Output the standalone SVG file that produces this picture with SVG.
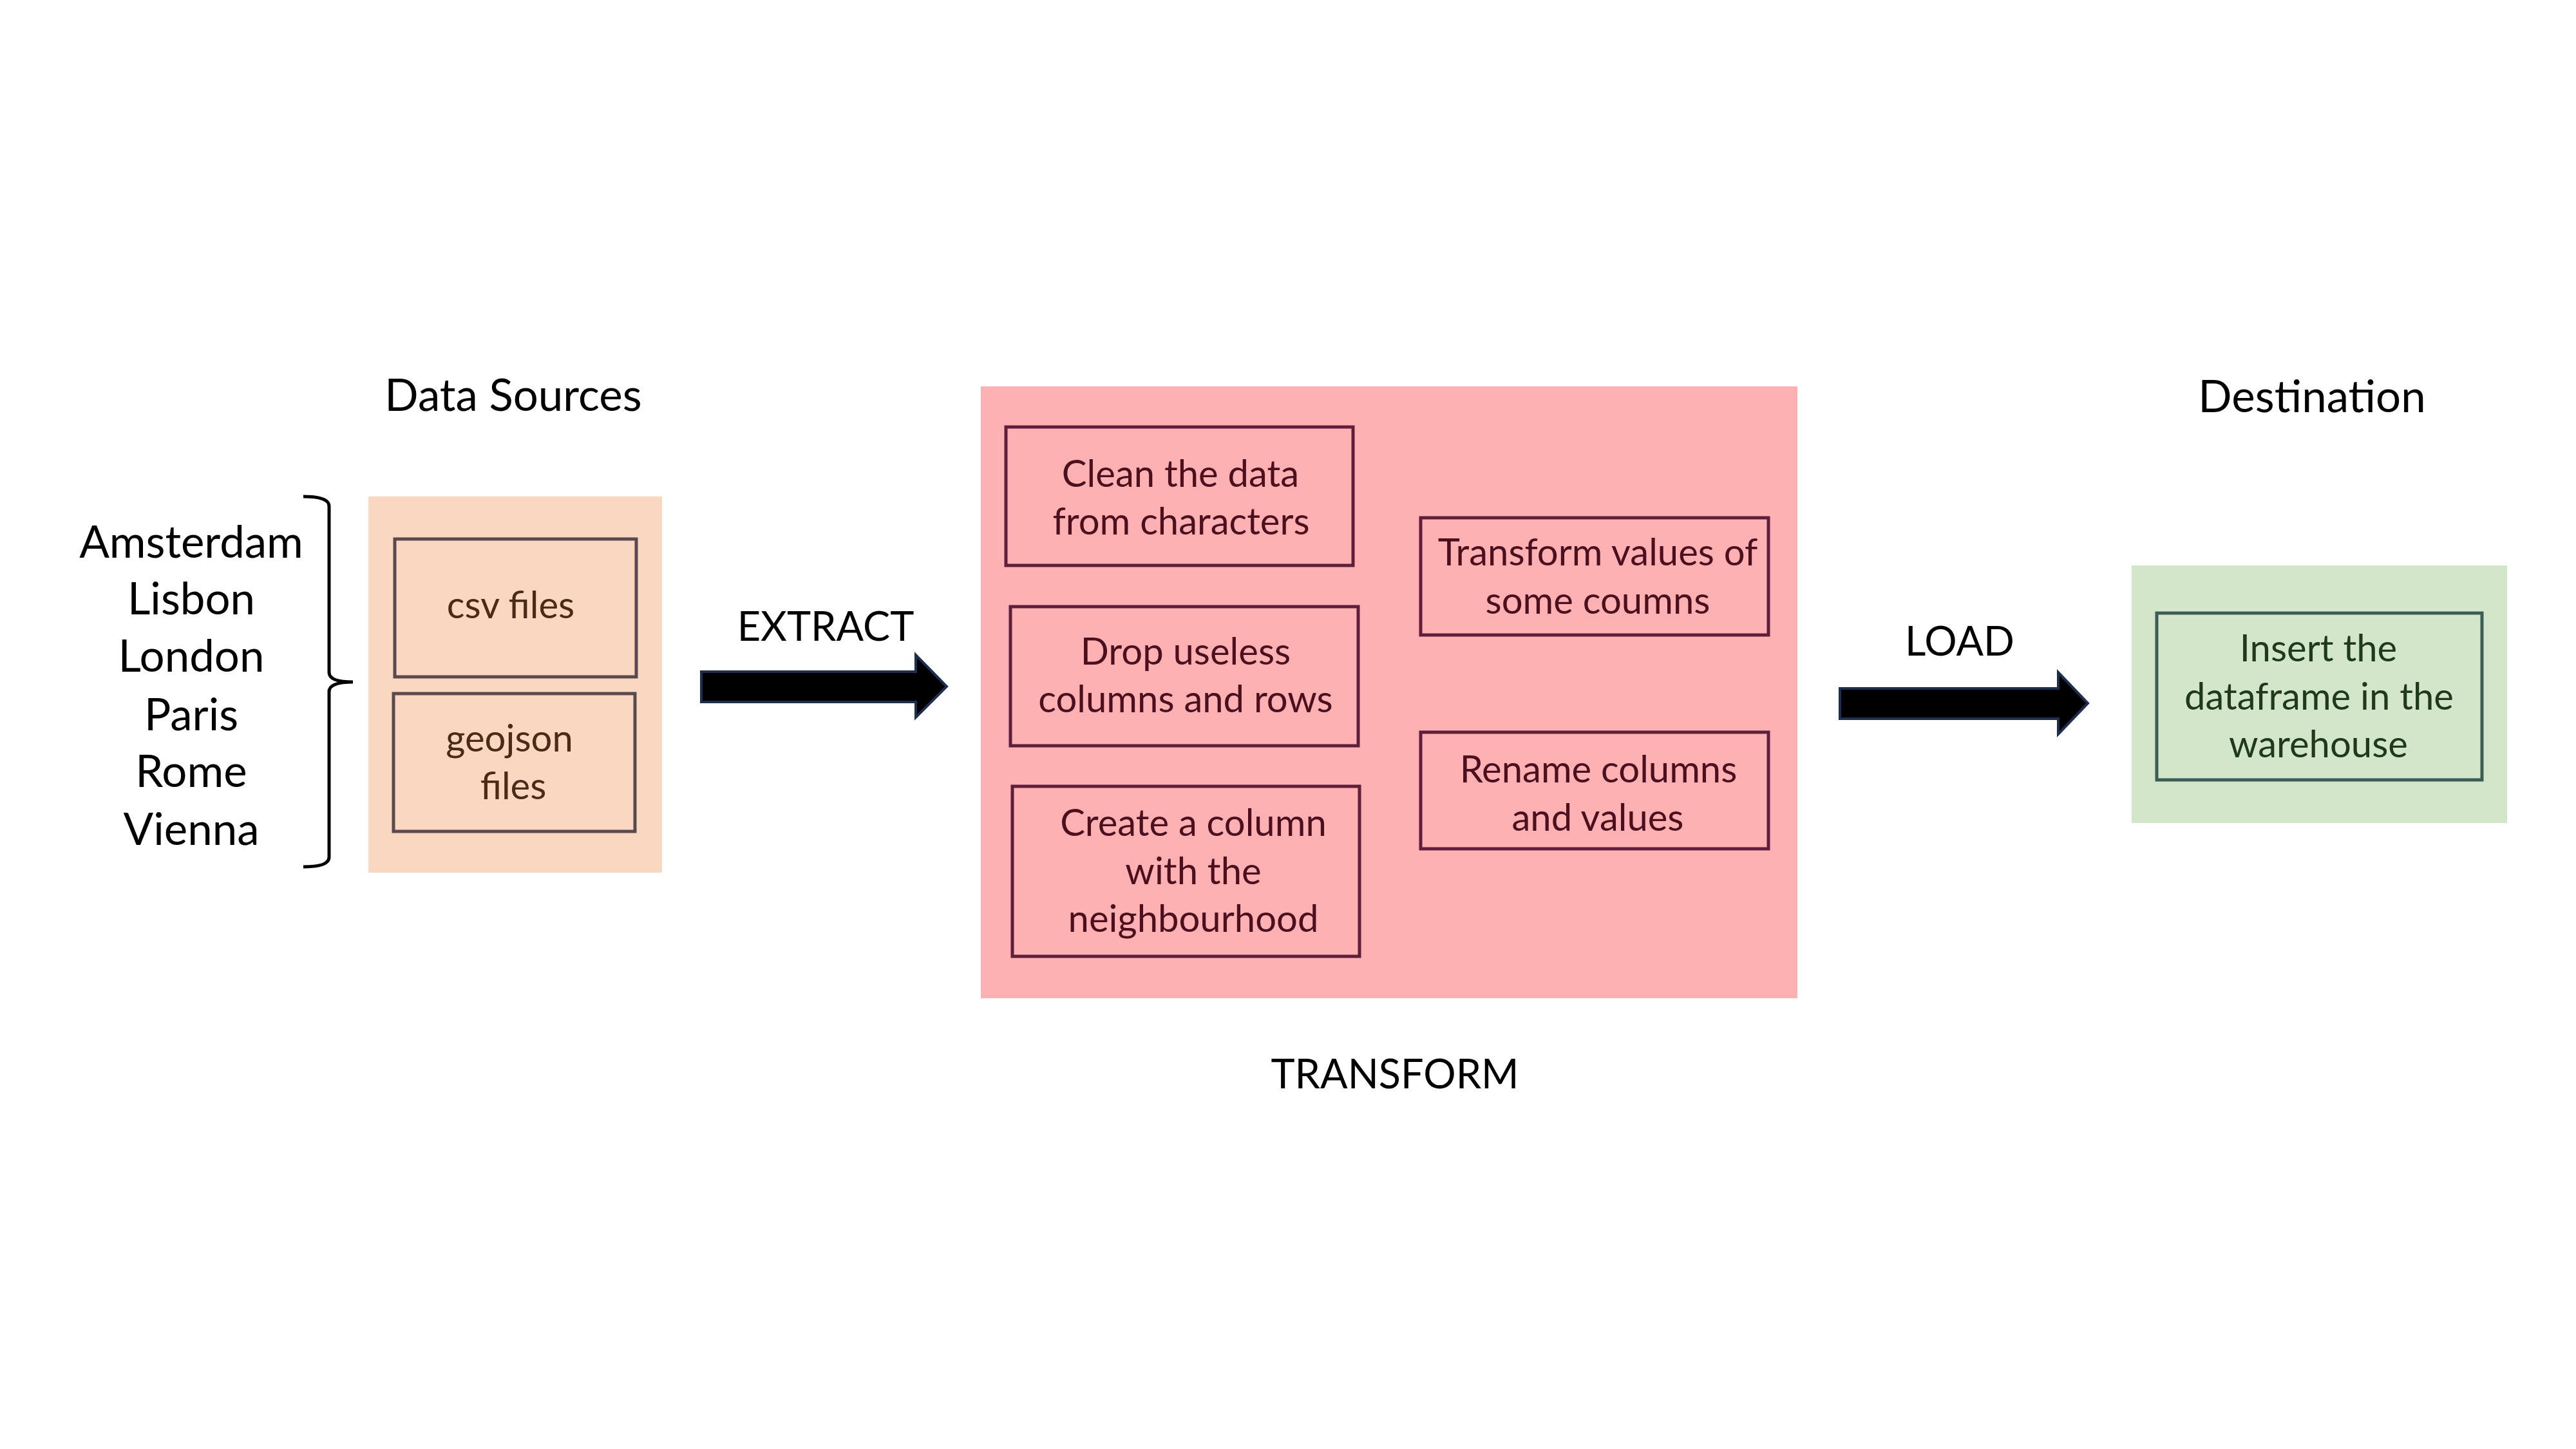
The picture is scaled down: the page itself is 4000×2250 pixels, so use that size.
<svg xmlns="http://www.w3.org/2000/svg" width="4000" height="2250" viewBox="0 0 4000 2250">
<style>
.lbl{font-family:Lato,"Liberation Sans",sans-serif;font-size:69px;fill:#000;text-anchor:middle}
.up{font-size:63px}
.t{font-family:Lato,"Liberation Sans",sans-serif;font-size:58px;text-anchor:middle}
.src{fill:#4C2A17}
.tr{fill:#4B0F1E}
.ds{fill:#1F3A18}
.bsrc{fill:none;stroke:#5A4A4E;stroke-width:5}
.btr{fill:none;stroke:#5F1F3A;stroke-width:5}
.bds{fill:none;stroke:#3D5C55;stroke-width:5}
.arrow{fill:#000;stroke:#1F2D4E;stroke-width:4;stroke-linejoin:miter}
</style>
<rect width="4000" height="2250" fill="#FFFFFF"/>

<g id="labels">
<text class="lbl" x="797" y="638">Data Sources</text>
<text class="lbl" x="3590" y="640">Destination</text>
<text class="lbl up" x="2166" y="1690">TRANSFORM</text>
</g>

<g id="cities">
<text class="lbl" x="297" y="866">Amsterdam</text>
<text class="lbl" x="297" y="954">Lisbon</text>
<text class="lbl" x="297" y="1043">London</text>
<text class="lbl" x="297" y="1134">Paris</text>
<text class="lbl" x="297" y="1222">Rome</text>
<text class="lbl" x="297" y="1312">Vienna</text>
<path d="M471,771 Q511,771 511,786 L511,1044 Q511,1059 548,1059 Q511,1059 511,1074 L511,1331 Q511,1346 471,1346" fill="none" stroke="#000" stroke-width="5"/>
</g>

<g id="sources">
<rect x="572" y="771" width="456" height="584" fill="#F9D7C1"/>
<g id="csv">
<rect class="bsrc" x="613" y="837" width="375" height="214"/>
<text class="t src" x="793" y="960">csv files</text>
</g>
<g id="geojson">
<rect class="bsrc" x="611" y="1077" width="375" height="214"/>
<text class="t src" x="791" y="1167">geojson</text>
<text class="t src" x="797" y="1241">files</text>
</g>
</g>

<g id="transform">
<rect x="1523" y="600" width="1268" height="950" fill="#FDB1B2"/>
<g id="clean">
<rect class="btr" x="1562" y="663" width="539" height="215"/>
<text class="t tr" x="1833" y="756">Clean the data</text>
<text class="t tr" x="1834" y="830">from characters</text>
</g>
<g id="drop">
<rect class="btr" x="1569" y="942" width="540" height="216"/>
<text class="t tr" x="1841" y="1032">Drop useless</text>
<text class="t tr" x="1841" y="1106">columns and rows</text>
</g>
<g id="create">
<rect class="btr" x="1572" y="1221" width="539" height="264"/>
<text class="t tr" x="1853" y="1298">Create a column</text>
<text class="t tr" x="1853" y="1373">with the</text>
<text class="t tr" x="1853" y="1447">neighbourhood</text>
</g>
<g id="transformvalues">
<rect class="btr" x="2206" y="804" width="540" height="182"/>
<text class="t tr" x="2481" y="878">Transform values of</text>
<text class="t tr" x="2481" y="953">some coumns</text>
</g>
<g id="rename">
<rect class="btr" x="2206" y="1137" width="540" height="181"/>
<text class="t tr" x="2482" y="1215">Rename columns</text>
<text class="t tr" x="2481" y="1290">and values</text>
</g>
</g>

<g id="destination">
<rect x="3310" y="878" width="583" height="400" fill="#D4E6C9"/>
<g id="insert">
<rect class="bds" x="3349" y="952" width="505" height="259"/>
<text class="t ds" x="3600" y="1027">Insert the</text>
<text class="t ds" x="3601" y="1102">dataframe in the</text>
<text class="t ds" x="3600" y="1176">warehouse</text>
</g>
</g>

<g id="connectors">
<path class="arrow" d="M1089,1043 L1422,1043 L1422,1017 L1470,1066 L1422,1114 L1422,1090 L1089,1090 Z"/>
<text class="lbl up" x="1282" y="995">EXTRACT</text>
<path class="arrow" d="M2857,1069 L3196,1069 L3196,1044 L3242,1092 L3196,1140 L3196,1116 L2857,1116 Z"/>
<text class="lbl up" x="3043" y="1018">LOAD</text>
</g>
</svg>
